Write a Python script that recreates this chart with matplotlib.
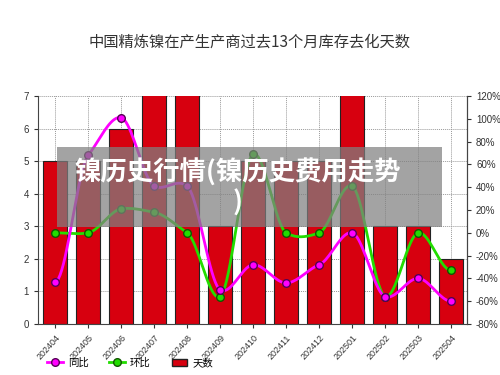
import numpy as np
import matplotlib
matplotlib.use("Agg")
import matplotlib.pyplot as plt
from matplotlib.patches import Patch
from matplotlib.lines import Line2D

plt.rcParams['font.family'] = ['Liberation Sans', 'Noto Sans CJK SC', 'DejaVu Sans']

months = ["202404", "202405", "202406", "202407", "202408", "202409", "202410",
          "202411", "202412", "202501", "202502", "202503", "202504"]
days = [5, 5, 6, 8, 8, 3, 5, 5, 5, 8, 3, 3, 2]            # 天数 (left axis)
yoy = [-43, 68, 101, 41, 41, -50, -28, -44, -28, 0, -56, -40, -60]   # 同比 %
mom = [0, 0, 21, 18, 0, -56, 69, 0, 0, 41, -56, 0, -33]           # 环比 %

RED, MAG, GRN = "#d7000f", "#ff00ff", "#22dd00"


def smooth(x, y, n=20, k=0.25):
    # cardinal spline through the points (mild curve, like the original)
    x = np.asarray(x, float); y = np.asarray(y, float)
    m = np.zeros_like(y)
    m[1:-1] = (y[2:] - y[:-2]) / 2 * (k / 0.5)
    xs, ys = [], []
    t = np.linspace(0, 1, n, endpoint=False)
    h00 = 2*t**3 - 3*t**2 + 1; h10 = t**3 - 2*t**2 + t
    h01 = -2*t**3 + 3*t**2; h11 = t**3 - t**2
    for i in range(len(x)-1):
        xs.append(x[i] + t*(x[i+1]-x[i]))
        ys.append(h00*y[i] + h10*m[i] + h01*y[i+1] + h11*m[i+1])
    xs.append([x[-1]]); ys.append([y[-1]])
    return np.concatenate(xs), np.concatenate(ys)


fig = plt.figure(figsize=(5, 3.75), dpi=100)
ax = fig.add_axes([0.076, 0.136, 0.858, 0.608])
x = np.arange(len(months))

ax.bar(x, days, width=0.72, color=RED, edgecolor="#222222", linewidth=0.8, zorder=2)
ax.set_xlim(-0.52, 12.48)
ax.set_ylim(0, 7)
ax.set_yticks(range(0, 8))
ax.set_xticks(x)
ax.set_xticklabels(months, rotation=48, ha="right", rotation_mode="anchor", fontsize=6.5, color="#444444")
ax.tick_params(axis="y", labelsize=7, colors="#333333", length=3)
ax.tick_params(axis="x", length=3, colors="#333333")
ax.grid(True, color="#999999", linestyle=(0, (1, 1)), linewidth=0.7, zorder=0)
ax.set_axisbelow(True)
for s in ("left", "bottom", "right"):
    ax.spines[s].set_color("#444444")
ax.spines["top"].set_visible(False)

ax2 = ax.twinx()
ax2.set_ylim(-80, 120)
ax2.set_yticks(range(-80, 121, 20))
ax2.set_yticklabels([f"{v}%" for v in range(-80, 121, 20)])
ax2.tick_params(axis="y", labelsize=7, colors="#333333", length=3)
for s in ("top", "left", "bottom"):
    ax2.spines[s].set_visible(False)
ax2.spines["right"].set_color("#444444")

sx, sy = smooth(x, mom)
ax2.plot(sx, sy, color=GRN, linewidth=2, zorder=3)
ax2.plot(x, mom, "o", color=GRN, markeredgecolor="#115500", markersize=5.5, zorder=4)
sx, sy = smooth(x, yoy)
ax2.plot(sx, sy, color=MAG, linewidth=2, zorder=3)
ax2.plot(x, yoy, "o", color=MAG, markeredgecolor="#550055", markersize=5.5, zorder=4)

fig.text(0.5, 0.888, "中国精炼镍在产生产商过去13个月库存去化天数", ha="center", va="center",
         fontsize=11, color="#333333", family=["Noto Sans CJK SC"])

handles = [Line2D([], [], color=MAG, lw=2, marker="o", markersize=5.5, markeredgecolor="#550055"),
           Line2D([], [], color=GRN, lw=2, marker="o", markersize=5.5, markeredgecolor="#115500"),
           Patch(facecolor=RED, edgecolor="#222222")]
fig.legend(handles, ["同比", "环比", "天数"], loc="center left", bbox_to_anchor=(0.075, 0.032),
           ncol=3, frameon=False, handlelength=1.5, columnspacing=2.0,
           handletextpad=0.5, prop={"family": ["Noto Sans CJK SC"], "size": 7.5})

# watermark banner over the plot
fig.patches.append(plt.Rectangle((0.114, 0.395), 0.77, 0.213, transform=fig.transFigure,
                                 facecolor="#808080", alpha=0.72, zorder=10))
fig.text(0.475, 0.5, "镍历史行情(镍历史费用走势\n)", ha="center", va="center", fontsize=19,
         fontweight="bold", color="white", linespacing=1.15, zorder=11,
         family=["Noto Sans CJK SC"])

fig.savefig("out.png", dpi=100)
